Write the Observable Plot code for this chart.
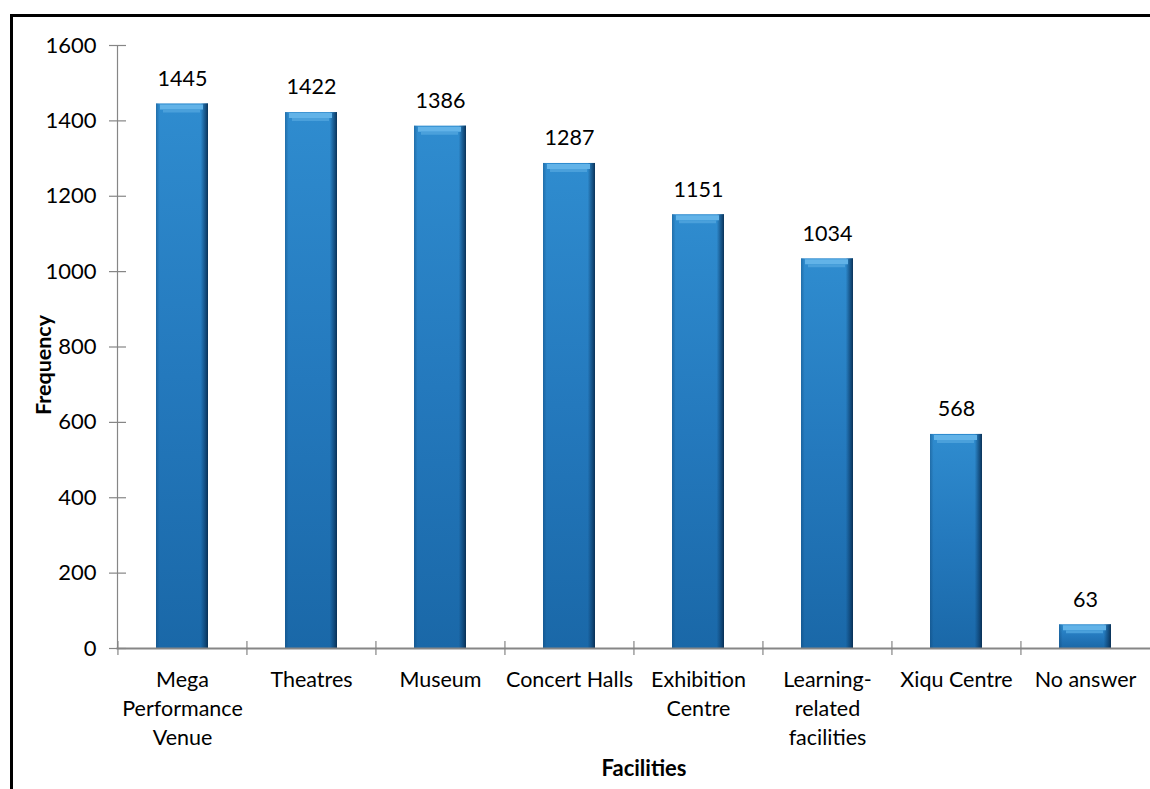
<!DOCTYPE html>
<html>
<head>
<meta charset="utf-8">
<script src="https://cdn.jsdelivr.net/npm/d3@7"></script>
<script src="https://cdn.jsdelivr.net/npm/@observablehq/plot@0.6"></script>
<style>
  html, body { margin: 0; padding: 0; background: #fff; overflow: hidden; }
  #chart svg { display: block; }
</style>
</head>
<body>
<div id="chart"></div>
<script>
const categories = ["Mega Performance Venue", "Theatres", "Museum", "Concert Halls", "Exhibition Centre", "Learning-related facilities", "Xiqu Centre", "No answer"];
const tickLabels = ["Mega\nPerformance\nVenue", "Theatres", "Museum", "Concert Halls", "Exhibition\nCentre", "Learning-\nrelated\nfacilities", "Xiqu Centre", "No answer"];
const frequencies = [1445, 1422, 1386, 1287, 1151, 1034, 568, 63];
const yTicks = [0, 200, 400, 600, 800, 1000, 1200, 1400, 1600];
const yTitle = "Frequency";
const xTitle = "Facilities";

const data = categories.map((c, i) => ({category: c, value: frequencies[i]}));
const labelOf = new Map(categories.map((c, i) => [c, tickLabels[i]]));

const W = 1150, H = 789;
const mL = 117, mR = 0, mT = 45, mB = 141;
const step = (W - mL - mR) / categories.length;
const frameW = W - mL - mR, frameH = H - mT - mB;
const axisColor = "#868686";

function defs() {
  const d = d3.create("svg:defs");
  const g1 = d.append("linearGradient").attr("id", "barGrad").attr("x1", 0).attr("y1", 0).attr("x2", 0).attr("y2", 1);
  g1.append("stop").attr("offset", "0%").attr("stop-color", "#2f8ccf");
  g1.append("stop").attr("offset", "50%").attr("stop-color", "#2479bd");
  g1.append("stop").attr("offset", "100%").attr("stop-color", "#1a68a8");
  const g2 = d.append("linearGradient").attr("id", "edgeGrad").attr("x1", 0).attr("y1", 0).attr("x2", 1).attr("y2", 0);
  g2.append("stop").attr("offset", "0%").attr("stop-color", "#0b3a66").attr("stop-opacity", 0.35);
  g2.append("stop").attr("offset", "7%").attr("stop-color", "#0b3a66").attr("stop-opacity", 0);
  g2.append("stop").attr("offset", "86%").attr("stop-color", "#0b3a66").attr("stop-opacity", 0);
  g2.append("stop").attr("offset", "93%").attr("stop-color", "#0b3a66").attr("stop-opacity", 0.55);
  g2.append("stop").attr("offset", "100%").attr("stop-color", "#06284a").attr("stop-opacity", 0.9);
  return d.node();
}

const chart = Plot.plot({
  width: W,
  height: H,
  marginLeft: mL,
  marginRight: mR,
  marginTop: mT,
  marginBottom: mB,
  style: {fontFamily: "Lato, 'Open Sans', sans-serif", fontSize: "21px", background: "#fff", color: "#000"},
  x: {domain: categories, paddingInner: 0.6, paddingOuter: 0.3},
  y: {domain: [0, 1600]},
  marks: [
    defs,
    Plot.frame({insetLeft: -106, insetTop: -30, insetRight: -60, insetBottom: -250, stroke: "#000", strokeWidth: 3}),
    Plot.barY(data, {x: "category", y: "value", fill: "url(#barGrad)"}),
    Plot.barY(data, {x: "category", y: "value", fill: "url(#edgeGrad)"}),
    Plot.tickY(data, {x: "category", y: "value", stroke: "#62b3e8", strokeWidth: 5, dy: 3, insetLeft: 4, insetRight: 5}),
    Plot.tickY(data, {x: "category", y: "value", stroke: "#4aa0db", strokeWidth: 3, dy: 7, insetLeft: 7, insetRight: 8}),
    Plot.frame({anchor: "left", stroke: axisColor, strokeWidth: 1.2}),
    Plot.frame({anchor: "bottom", stroke: axisColor, strokeWidth: 2}),
    Plot.ruleY(yTicks, {stroke: axisColor, strokeWidth: 1.2, insetLeft: -8, insetRight: frameW - 9}),
    Plot.ruleX(categories, {stroke: axisColor, strokeWidth: 1.2, dx: -step / 2, insetTop: frameH - 7, insetBottom: -7}),
    Plot.text(data, {x: "category", y: "value", text: d => String(d.value), dy: -25, fontSize: 21.5, fill: "#000"}),
    Plot.axisY({ticks: yTicks, tickSize: 0, tickPadding: 21, label: null, fontSize: 22, tickFormat: d => String(d)}),
    Plot.axisX({tickSize: 0, tickPadding: 18, label: null, fontSize: 21.5, lineHeight: 1.35, tickFormat: d => labelOf.get(d)}),
    Plot.text([yTitle], {frameAnchor: "left", text: d => d, rotate: -90, textAnchor: "middle", dx: -73, dy: 18, fontSize: 21.5, fontWeight: "bold", fill: "#000"}),
    Plot.text([xTitle], {frameAnchor: "bottom", text: d => d, textAnchor: "middle", dx: 10, dy: 127, fontSize: 22, fontWeight: "bold", fill: "#000"})
  ]
});

document.getElementById("chart").appendChild(chart);
</script>
</body>
</html>
